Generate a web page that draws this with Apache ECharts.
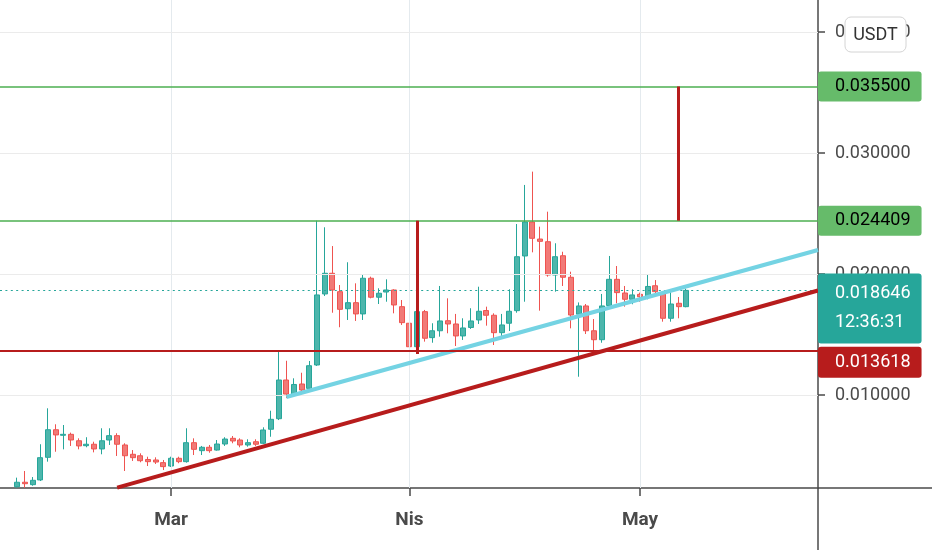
<!DOCTYPE html>
<html><head><meta charset="utf-8">
<script src="https://cdn.jsdelivr.net/npm/echarts@6/dist/echarts.min.js"></script>
<style>html,body{margin:0;padding:0;background:#fff}#c{width:932px;height:550px}</style>
</head><body><div id="c"></div><script>
// ---- data ----
const dates = [
 '2020-02-10','2020-02-11','2020-02-12','2020-02-13','2020-02-14','2020-02-15','2020-02-16','2020-02-17','2020-02-18','2020-02-19',
 '2020-02-20','2020-02-21','2020-02-22','2020-02-23','2020-02-24','2020-02-25','2020-02-26','2020-02-27','2020-02-28','2020-02-29',
 '2020-03-01','2020-03-02','2020-03-03','2020-03-04','2020-03-05','2020-03-06','2020-03-07','2020-03-08','2020-03-09','2020-03-10',
 '2020-03-11','2020-03-12','2020-03-13','2020-03-14','2020-03-15','2020-03-16','2020-03-17','2020-03-18','2020-03-19','2020-03-20',
 '2020-03-21','2020-03-22','2020-03-23','2020-03-24','2020-03-25','2020-03-26','2020-03-27','2020-03-28','2020-03-29','2020-03-30',
 '2020-03-31','2020-04-01','2020-04-02','2020-04-03','2020-04-04','2020-04-05','2020-04-06','2020-04-07','2020-04-08','2020-04-09',
 '2020-04-10','2020-04-11','2020-04-12','2020-04-13','2020-04-14','2020-04-15','2020-04-16','2020-04-17','2020-04-18','2020-04-19',
 '2020-04-20','2020-04-21','2020-04-22','2020-04-23','2020-04-24','2020-04-25','2020-04-26','2020-04-27','2020-04-28','2020-04-29',
 '2020-04-30','2020-05-01','2020-05-02','2020-05-03','2020-05-04','2020-05-05','2020-05-06','2020-05-07'
];
const openV = [
 0.00242,0.00279,0.00259,0.00298,0.00485,0.00713,0.00667,0.00675,0.00622,0.00581,
 0.00593,0.00554,0.00628,0.00664,0.00587,0.00510,0.00498,0.00467,0.00463,0.00441,
 0.00413,0.00477,0.00449,0.00606,0.00540,0.00568,0.00545,0.00595,0.00642,0.00628,
 0.00587,0.00614,0.00601,0.00717,0.00804,0.01124,0.01008,0.01091,0.01055,0.01248,
 0.01835,0.02006,0.01854,0.01713,0.01763,0.01670,0.01965,0.01808,0.01851,0.01868,
 0.01730,0.01593,0.01399,0.01689,0.01474,0.01531,0.01614,0.01587,0.01488,0.01558,
 0.01620,0.01698,0.01659,0.01515,0.01593,0.01697,0.02149,0.02430,0.02289,0.02267,
 0.01992,0.02151,0.01973,0.01668,0.01736,0.01531,0.01457,0.01740,0.01956,0.01843,
 0.01791,0.01832,0.01812,0.01903,0.01835,0.01634,0.01758,0.01730
];
const closeV = [
 0.00279,0.00267,0.00295,0.00482,0.00713,0.00670,0.00675,0.00628,0.00579,0.00593,
 0.00554,0.00622,0.00664,0.00593,0.00498,0.00482,0.00457,0.00449,0.00446,0.00408,
 0.00477,0.00449,0.00606,0.00551,0.00568,0.00540,0.00595,0.00636,0.00620,0.00587,
 0.00606,0.00593,0.00711,0.00799,0.01124,0.01008,0.01087,0.01041,0.01242,0.01827,
 0.02006,0.01868,0.01708,0.01763,0.01670,0.01965,0.01808,0.01841,0.01868,0.01744,
 0.01598,0.01399,0.01689,0.01469,0.01531,0.01612,0.01587,0.01488,0.01554,0.01612,
 0.01692,0.01659,0.01515,0.01579,0.01692,0.02143,0.02430,0.02295,0.02270,0.01992,
 0.02143,0.01973,0.01661,0.01736,0.01531,0.01457,0.01736,0.01956,0.01846,0.01791,
 0.01827,0.01812,0.01897,0.01854,0.01634,0.01752,0.01730,0.018646
];
const lowV = [
 0.00234,0.00234,0.00250,0.00289,0.00449,0.00531,0.00551,0.00579,0.00551,0.00568,
 0.00526,0.00510,0.00587,0.00496,0.00372,0.00455,0.00444,0.00413,0.00430,0.00380,
 0.00405,0.00436,0.00441,0.00504,0.00504,0.00523,0.00540,0.00579,0.00601,0.00568,
 0.00573,0.00579,0.00595,0.00655,0.00793,0.00975,0.01000,0.01027,0.01041,0.01240,
 0.01818,0.01680,0.01560,0.01620,0.01612,0.01620,0.01799,0.01752,0.01771,0.01675,
 0.01579,0.01380,0.01394,0.01441,0.01432,0.01482,0.01510,0.01405,0.01455,0.01546,
 0.01587,0.01573,0.01413,0.01488,0.01529,0.01680,0.01771,0.02179,0.01697,0.01978,
 0.01854,0.01901,0.01551,0.01151,0.01504,0.01354,0.01432,0.01730,0.01758,0.01730,
 0.01750,0.01771,0.01791,0.01812,0.01606,0.01606,0.01634,0.01725
];
const highV = [
 0.00317,0.00372,0.00322,0.00593,0.00890,0.00758,0.00752,0.00689,0.00642,0.00651,
 0.00614,0.00725,0.00725,0.00684,0.00601,0.00545,0.00518,0.00490,0.00485,0.00463,
 0.00490,0.00490,0.00725,0.00642,0.00579,0.00587,0.00628,0.00651,0.00661,0.00642,
 0.00634,0.00634,0.00733,0.00870,0.01360,0.01283,0.01138,0.01184,0.01281,0.02441,
 0.02386,0.02231,0.01909,0.02097,0.01923,0.01998,0.01978,0.01882,0.01956,0.01874,
 0.01785,0.01634,0.01695,0.01703,0.01593,0.01901,0.01799,0.01670,0.01634,0.01717,
 0.01895,0.01730,0.01675,0.01670,0.01874,0.02413,0.02736,0.02846,0.02391,0.02515,
 0.02254,0.02184,0.02019,0.01765,0.01752,0.01628,0.01835,0.02149,0.02066,0.01901,
 0.01874,0.01846,0.01992,0.01950,0.01851,0.01854,0.01810,0.01879
];
const monthTicks = ['2020-03-01','2020-04-01','2020-05-01'];
const monthLabels = ['Mar','Nis','May'];
const priceTicks = [0.01, 0.02, 0.03, 0.04];
const resistanceLevels = [0.0355, 0.024409];
const supportLevel = 0.013618;
const lastPrice = 0.018646;
const countdown = '12:36:31';
// trend lines: [start date, start value, end value at right edge]
const cyanTrend = ['2020-03-16', 0.009835, 0.02198];
const redTrend = ['2020-02-23', 0.00235, 0.01864];
// vertical measure lines: [date, from, to]
const measure1 = ['2020-04-02', 0.024409, 0.01339];
const measure2 = ['2020-05-06', 0.0355, 0.024409];

// ---- helpers / view ----
const day = s => Date.UTC(+s.slice(0,4), +s.slice(5,7)-1, +s.slice(8,10)) / 864e5;
const anchor = day('2020-03-01');
const xMin = anchor - 22.24, xMax = anchor + 84.14;
const yMin = 0.002314, yMax = 0.042645;
const monthDays = monthTicks.map(day);
const candles = dates.map((d, i) => [day(d), openV[i], closeV[i], lowV[i], highV[i]]);

const FONT = 'Roboto';
const AX = '#4a4a4a';
const RED = '#b71c1c';
const GREEN = '#4caf50';
const TEAL = '#26a69a';

function boxLabel(text, bg, fg, extra) {
  return Object.assign({
    show: true, position: 'end', distance: 0, formatter: text,
    backgroundColor: bg, color: fg, fontSize: 18, fontFamily: FONT,
    lineHeight: 20, padding: [5, 11, 5, 17], borderRadius: 3
  }, extra || {});
}

const chart = echarts.init(document.getElementById('c'), null, {renderer: 'canvas'});
chart.setOption({
  backgroundColor: '#fff',
  animation: false,
  grid: {left: 0, right: 114, top: 0, bottom: 62, outerBoundsMode: 'none', containLabel: false},
  xAxis: {
    type: 'value', min: xMin, max: xMax,
    axisLine: {show: true, onZero: false, lineStyle: {color: AX, width: 1.5}},
    axisTick: {show: true, customValues: monthDays, length: 8, lineStyle: {color: AX, width: 1.5}},
    axisLabel: {customValues: monthDays, formatter: v => monthLabels[monthDays.indexOf(v)] || '',
      margin: 23, fontSize: 19, fontWeight: 'bold', color: AX, fontFamily: FONT},
    splitLine: {show: false}
  },
  yAxis: {
    type: 'value', position: 'right', min: yMin, max: yMax, scale: true,
    axisLine: {show: true, onZero: false, lineStyle: {color: AX, width: 1.5}},
    axisTick: {show: true, customValues: priceTicks, length: 7, lineStyle: {color: AX, width: 1.5}},
    axisLabel: {customValues: priceTicks, formatter: v => v.toFixed(6), margin: 17,
      fontSize: 18, color: AX, fontFamily: FONT},
    splitLine: {show: false}
  },
  graphic: [
    {type: 'line', z: 50, shape: {x1: 818, y1: 488, x2: 932, y2: 488}, style: {stroke: AX, lineWidth: 1.5}},
    {type: 'line', z: 50, shape: {x1: 818, y1: 488, x2: 818, y2: 550}, style: {stroke: AX, lineWidth: 1.5}},
    {type: 'rect', z: 100, shape: {x: 845, y: 17, width: 61, height: 35, r: 6},
      style: {fill: '#fff', stroke: '#d4d4d4', lineWidth: 1}},
    {type: 'text', z: 101, x: 875.5, y: 35,
      style: {text: 'USDT', fill: '#333', font: '18px Roboto', textAlign: 'center', textVerticalAlign: 'middle'}}
  ],
  series: [
    { // grid lines
      type: 'line', data: [], z: 1, silent: true,
      markLine: {silent: true, precision: 8, symbol: ['none', 'none'], animation: false, label: {show: false},
        data: [
          ...monthDays.map(d => ({xAxis: d, lineStyle: {color: '#e4eaee', width: 1, type: 'solid'}})),
          ...priceTicks.map(p => ({yAxis: p, lineStyle: {color: '#ebebeb', width: 1, type: 'solid'}}))
        ]}
    },
    {
      type: 'candlestick', z: 2, barWidth: 5.5, data: candles,
      itemStyle: {color: '#4db6ac', color0: '#f17a77', borderColor: TEAL, borderColor0: '#ef5350', borderWidth: 1}
    },
    { // annotations
      type: 'line', data: [], z: 3, silent: true,
      markLine: {silent: true, precision: 8, symbol: ['none', 'none'], animation: false, label: {show: false},
        data: [
          {yAxis: lastPrice, lineStyle: {color: TEAL, width: 1, type: [2, 3.4]},
            label: boxLabel(lastPrice.toFixed(6) + '\n' + countdown, TEAL, '#fff', {lineHeight: 29, padding: [6, 11, 6, 17], offset: [0, 18]})},
          [{coord: [day(cyanTrend[0]), cyanTrend[1]], lineStyle: {color: '#74d3e3', width: 4, type: 'solid'}},
           {coord: [xMax, cyanTrend[2]]}],
          [{coord: [day(redTrend[0]), redTrend[1]], lineStyle: {color: RED, width: 4, type: 'solid'}},
           {coord: [xMax, redTrend[2]]}],
          {yAxis: supportLevel, lineStyle: {color: RED, width: 2, type: 'solid'},
            label: boxLabel(supportLevel.toFixed(6), '#b71c1c', '#fff', {offset: [0, 11], padding: [5.5, 11, 5.5, 17]})},
          ...resistanceLevels.map(r => ({yAxis: r, lineStyle: {color: GREEN, width: 1.5, type: 'solid'},
            label: boxLabel(r.toFixed(6), '#66bb6a', '#000')})),
          [{coord: [day(measure1[0]), measure1[1]], lineStyle: {color: RED, width: 3, type: 'solid'}},
           {coord: [day(measure1[0]), measure1[2]]}],
          [{coord: [day(measure2[0]), measure2[1]], lineStyle: {color: RED, width: 3, type: 'solid'}},
           {coord: [day(measure2[0]), measure2[2]]}]
        ]}
    }
  ]
});
</script></body></html>
